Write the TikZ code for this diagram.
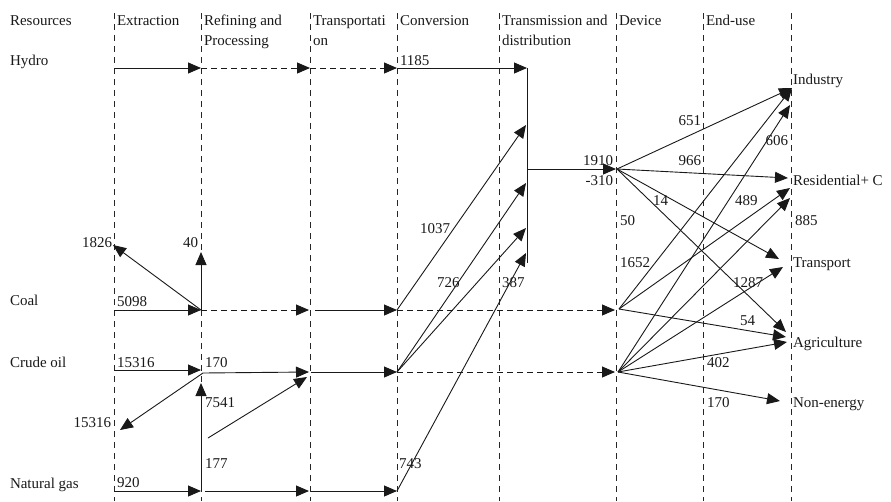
\documentclass[tikz,border=0pt]{standalone}
\usepackage{fontspec}
\setmainfont{Liberation Serif}
\usetikzlibrary{arrows.meta}
\begin{document}
\begin{tikzpicture}[x=1pt,y=-1pt,
  every node/.style={inner sep=0pt, outer sep=0pt, anchor=base west, font=\fontsize{15}{20}\selectfont, text=black!90},
  lab/.style={anchor=base west},
  rlab/.style={anchor=base east},
  gridline/.style={line width=0.8pt, dash pattern=on 6pt off 5pt, black!85},
  flow/.style={line width=0.9pt, black!90, -{Triangle[length=13pt,width=11pt]}},
  dflow/.style={flow, dash pattern=on 6pt off 4pt},
  plain/.style={line width=0.9pt, black!90}]
\useasboundingbox (0,0) rectangle (891,501);
% column separators
\foreach \n/\x in {a/114,b/201,c/310,d/397,e/499,f/616,g/703,h/791}{
  \coordinate (top\n) at (\x,13);
  \coordinate (bot\n) at (\x,501);
  \draw[gridline] (top\n) -- (bot\n);
}
% headers
\node[lab] (hRes) at (10,25) {Resources};
\node[lab] (hExt) at (117,25) {Extraction};
\node[lab] (hRef1) at (204,25) {Refining and};
\node[lab] (hRef2) at (204,45) {Processing};
\node[lab] (hTra1) at (313,25) {Transportati};
\node[lab] (hTra2) at (313,45) {on};
\node[lab] (hCon) at (400,25) {Conversion};
\node[lab] (hTd1) at (502,25) {Transmission and};
\node[lab] (hTd2) at (502,45) {distribution};
\node[lab] (hDev) at (619,25) {Device};
\node[lab] (hEnd) at (706,25) {End-use};
% row labels
\node[lab] (rHydro) at (10,65) {Hydro};
\node[lab] (rCoal) at (10,305) {Coal};
\node[lab] (rOil) at (10,367) {Crude oil};
\node[lab] (rGas) at (10,488) {Natural gas};
% end-use labels
\node[lab] (eInd) at (793,84) {Industry};
\node[lab] (eRes) at (793,185) {Residential+ C};
\node[lab] (eTra) at (793,267) {Transport};
\node[lab] (eAgr) at (793,347) {Agriculture};
\node[lab] (eNon) at (793,407) {Non-energy};
% coordinates
\coordinate (h0) at (114,68); \coordinate (h1) at (201,68); \coordinate (h2) at (310,68);
\coordinate (h3) at (397,68); \coordinate (h4) at (527,68);
\coordinate (tb) at (527,263); \coordinate (tm) at (527,169); \coordinate (dA) at (616,169);
\coordinate (c0) at (114,310); \coordinate (c1) at (201,310); \coordinate (c1u) at (201,252);
\coordinate (c1l) at (113,245); \coordinate (c2) at (309,310); \coordinate (c3s) at (315,310);
\coordinate (c4) at (397,310); \coordinate (dB) at (615,310);
\coordinate (o0) at (114,370); \coordinate (o1) at (201,370); \coordinate (o1s) at (203,373);
\coordinate (o1l) at (120,430); \coordinate (o2) at (309,372); \coordinate (o2s) at (311,372);
\coordinate (o3) at (397,372); \coordinate (dC) at (615,372);
\coordinate (oa) at (208,438); \coordinate (ob) at (307,377);
\coordinate (g0) at (114,491); \coordinate (g1) at (201,491); \coordinate (g1u) at (201,383);
\coordinate (g1s) at (205,491); \coordinate (g2) at (309,491); \coordinate (g2s) at (311,491);
\coordinate (g3) at (397,491);
\coordinate (t1) at (526,125); \coordinate (t2) at (526,183); \coordinate (t3) at (526,228);
\coordinate (t4) at (526,253);
\coordinate (A) at (617,169); \coordinate (B) at (619,309); \coordinate (C) at (618,372);
\coordinate (ind1) at (792,88); \coordinate (ind2) at (790,105);
\coordinate (res1) at (788,178); \coordinate (res2) at (790,188); \coordinate (res3) at (790,198);
\coordinate (tr1) at (779,259); \coordinate (tr2) at (783,267);
\coordinate (ag1) at (786,332); \coordinate (ag2) at (786,337); \coordinate (ag3) at (787,342);
\coordinate (ne) at (780,401);
% hydro
\draw[flow] (h0) -- (h1);
\draw[dflow] (h1) -- (h2);
\draw[dflow] (h2) -- (h3);
\draw[flow] (h3) -- (h4);
\draw[plain] (h4) -- (tb);
\draw[flow] (tm) -- (dA);
% coal
\draw[flow] (c0) -- (c1);
\draw[flow] (c1) -- (c1u);
\draw[flow] (c1) -- (c1l);
\draw[dflow] (c1) -- (c2);
\draw[flow] (c3s) -- (c4);
\draw[dflow] (c4) -- (dB);
% crude oil
\draw[flow] (o0) -- (o1);
\draw[flow] (o1s) -- (o1l);
\draw[flow] (o1s) -- (o2);
\draw[flow] (oa) -- (ob);
\draw[flow] (o2s) -- (o3);
\draw[dflow] (o3) -- (dC);
% natural gas
\draw[flow] (g0) -- (g1);
\draw[flow] (g1) -- (g1u);
\draw[flow] (g1s) -- (g2);
\draw[flow] (g2s) -- (g3);
% conversion to transmission
\draw[flow] (c4) -- (t1);
\draw[flow] (o3) -- (t2);
\draw[flow] (o3) -- (t3);
\draw[flow] (g3) -- (t4);
% device to end-use
\draw[flow] (A) -- (ind1);
\draw[flow] (A) -- (res1);
\draw[flow] (A) -- (tr1);
\draw[flow] (A) -- (ag1);
\draw[flow] (B) -- (ind1);
\draw[flow] (B) -- (res2);
\draw[flow] (B) -- (ag2);
\draw[flow] (C) -- (ind2);
\draw[flow] (C) -- (res3);
\draw[flow] (C) -- (tr2);
\draw[flow] (C) -- (ag3);
\draw[flow] (C) -- (ne);
% numbers
\node[lab] (n1185) at (400,65) {1185};
\node[lab] (n5098) at (117,306) {5098};
\node[lab] (n15316a) at (117,367) {15316};
\node[lab] (n170a) at (205,367) {170};
\node[lab] (n7541) at (205,407) {7541};
\node[lab] (n177) at (205,468) {177};
\node[lab] (n920) at (117,487) {920};
\node[lab] (n743) at (399,468) {743};
\node[rlab] (n1826) at (112,247) {1826};
\node[rlab] (n40) at (198,247) {40};
\node[rlab] (n15316b) at (111,427) {15316};
\node[lab] (n1037) at (420,233) {1037};
\node[lab] (n726) at (437,287) {726};
\node[lab] (n387) at (502,287) {387};
\node[rlab] (n1910) at (613,165) {1910};
\node[rlab] (n310) at (613,185) {-310};
\node[lab] (n50) at (620,225) {50};
\node[lab] (n1652) at (620,267) {1652};
\node[rlab] (n651) at (701,125) {651};
\node[rlab] (n966) at (701,165) {966};
\node[lab] (n14) at (653,205) {14};
\node[rlab] (n606) at (788,145) {606};
\node[lab] (n489) at (735,205) {489};
\node[lab] (n885) at (795,225) {885};
\node[lab] (n1287) at (733,287) {1287};
\node[lab] (n54) at (740,325) {54};
\node[lab] (n402) at (707,367) {402};
\node[lab] (n170b) at (707,407) {170};
\end{tikzpicture}
\end{document}
